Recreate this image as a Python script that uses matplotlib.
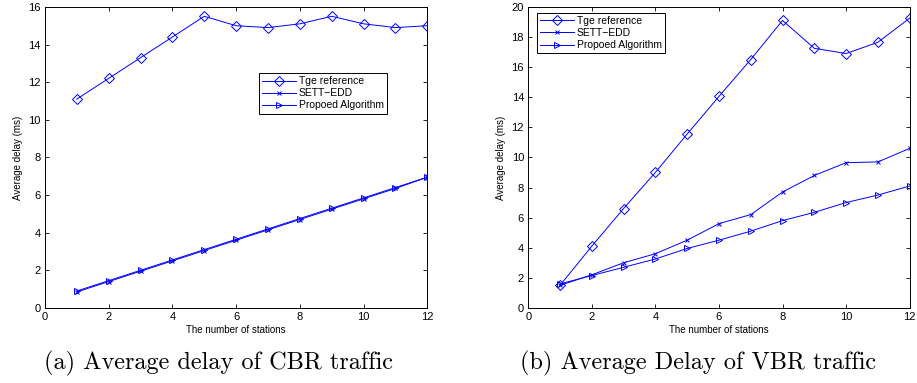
import matplotlib.pyplot as plt

stations = [1, 2, 3, 4, 5, 6, 7, 8, 9, 10, 11, 12]

# (a) CBR traffic
cbr_ref = [11.1, 12.2, 13.3, 14.4, 15.5, 15.0, 14.9, 15.1, 15.5, 15.1, 14.9, 15.0]
cbr_sett = [0.85, 1.4, 1.95, 2.5, 3.05, 3.6, 4.15, 4.7, 5.25, 5.8, 6.35, 6.95]
cbr_prop = [0.9, 1.45, 2.0, 2.55, 3.1, 3.65, 4.2, 4.75, 5.3, 5.85, 6.4, 6.95]

# (b) VBR traffic
vbr_ref = [1.5, 4.1, 6.6, 9.0, 11.55, 14.05, 16.5, 19.1, 17.25, 16.9, 17.65, 19.25]
vbr_sett = [1.5, 2.2, 3.0, 3.6, 4.5, 5.6, 6.2, 7.7, 8.8, 9.65, 9.7, 10.6]
vbr_prop = [1.6, 2.15, 2.7, 3.25, 3.95, 4.5, 5.1, 5.8, 6.35, 7.0, 7.5, 8.1]

labels = ["Tge reference", "SETT\u2212EDD", "Propoed Algorithm"]
captions = ["(a) Average delay of CBR traffic", "(b) Average Delay of VBR traffic"]

plt.rcParams['font.family'] = ['Liberation Sans', 'DejaVu Sans']
blue = "#0000ff"

fig = plt.figure(figsize=(9.17, 3.83), dpi=100)
ax1 = fig.add_axes([0.049, 0.196, 0.417, 0.786])
ax2 = fig.add_axes([0.576, 0.196, 0.416, 0.786])


def draw(ax, ref, sett, prop, ymax, legend_loc):
    ax.plot(stations, ref, color=blue, lw=0.7, marker="D", ms=5, mfc="none", mew=0.7, label=labels[0])
    ax.plot(stations, sett, color=blue, lw=0.7, marker="x", ms=3.5, mew=0.7, label=labels[1])
    ax.plot(stations, prop, color=blue, lw=0.7, marker=">", ms=5, mfc="none", mew=0.7, label=labels[2])
    ax.set_xlim(0, 12)
    ax.set_ylim(0, ymax)
    ax.set_xticks(range(0, 13, 2))
    ax.set_yticks(range(0, ymax + 1, 2))
    ax.tick_params(direction="in", top=True, right=True, labelsize=8, length=3, width=0.6, pad=3)
    for s in ax.spines.values():
        s.set_linewidth(0.7)
    ax.set_xlabel("The number of stations", fontsize=7, labelpad=2)
    ax.set_ylabel("Average delay (ms)", fontsize=7, labelpad=4)
    leg = ax.legend(bbox_to_anchor=legend_loc, loc="upper left", fontsize=7.5, fancybox=False,
                    edgecolor="black", framealpha=1, borderpad=0.3, labelspacing=0.2,
                    handlelength=3.2, handletextpad=0.3, borderaxespad=0)
    leg.get_frame().set_linewidth(0.7)


draw(ax1, cbr_ref, cbr_sett, cbr_prop, 16, (0.56, 0.78))
draw(ax2, vbr_ref, vbr_sett, vbr_prop, 20, (0.024, 0.98))

fig.text(0.238, 0.052, captions[0], family=["cmr10", "DejaVu Serif"], fontsize=17.5, ha="center", va="center")
fig.text(0.761, 0.052, captions[1], family=["cmr10", "DejaVu Serif"], fontsize=17.5, ha="center", va="center")

fig.savefig("out.png", dpi=100)
